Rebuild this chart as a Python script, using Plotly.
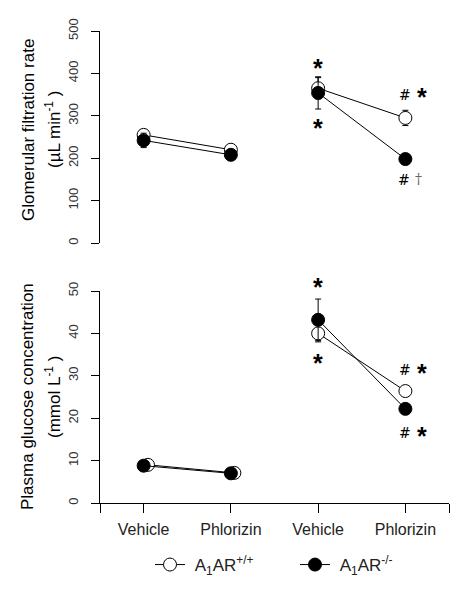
import plotly.graph_objects as go

# ---------------- data ----------------
categories = ["Vehicle", "Phlorizin", "Vehicle", "Phlorizin"]
cat_pos = [1, 2, 3, 4]
glu_wt_pos = [1.05, 2.04, 3, 4]

gfr_wt = [255, 220, 365, 295]
gfr_wt_err = [10, 8, 25, 18]
gfr_ko = [242, 208, 354, 198]
gfr_ko_err = [17, 8, 38, 10]

glu_wt = [9.0, 7.1, 40.0, 26.4]
glu_wt_err = [0.5, 0.4, 2.0, 1.2]
glu_ko = [8.8, 7.0, 43.2, 22.2]
glu_ko_err = [0.5, 0.4, 4.9, 1.0]

gfr_ticks = [0, 100, 200, 300, 400, 500]
glu_ticks = [0, 10, 20, 30, 40, 50]

FONT = "Liberation Sans, Arial, sans-serif"

fig = go.Figure()

def add_series(xs, ys, errs, filled, xa, ya, name, show):
    for grp in ([0, 1], [2, 3]):
        fig.add_trace(go.Scatter(
            x=[xs[i] for i in grp], y=[ys[i] for i in grp],
            error_y=dict(type="data", array=[errs[i] for i in grp], color="black",
                         thickness=1, width=3),
            mode="lines+markers",
            line=dict(color="black", width=1),
            marker=dict(size=13, symbol="circle",
                        color="black" if filled else "white",
                        line=dict(color="black", width=1)),
            name=name, legendgroup=name, showlegend=show and grp[0] == 0,
            xaxis=xa, yaxis=ya, cliponaxis=False,
        ))

WT = "\u00a0A<sub>1</sub>AR<sup>+/+</sup>"
KO = "\u00a0A<sub>1</sub>AR<sup>-/-</sup>"
add_series(cat_pos, gfr_wt, gfr_wt_err, False, "x", "y", WT, True)
add_series(cat_pos, gfr_ko, gfr_ko_err, True, "x", "y", KO, True)
add_series(glu_wt_pos, glu_wt, glu_wt_err, False, "x2", "y2", WT, False)
add_series(cat_pos, glu_ko, glu_ko_err, True, "x2", "y2", KO, False)

# significance markers
star_size = 25
def sym(xa, ya, xi, yv, shift, txt, dx=0):
    if txt == "*":
        f = dict(size=star_size, color="black", family=FONT, weight="bold")
        corr = -4
    elif txt == "#":
        f = dict(size=14, color="black", family="DejaVu Serif, serif")
        corr = 0
    else:
        f = dict(size=14, color="#666", family="DejaVu Serif, serif")
        corr = 1
    fig.add_annotation(x=cat_pos[xi], y=yv, xref=xa, yref=ya, text=txt,
                       showarrow=False, font=f, yshift=shift + corr, xshift=dx,
                       xanchor="center", yanchor="middle")

sym("x", "y", 2, gfr_wt[2] + gfr_wt_err[2], 14, "*")
sym("x", "y", 2, gfr_ko[2] - gfr_ko_err[2], -15, "*")
sym("x", "y", 3, gfr_wt[3], 23, "#")
sym("x", "y", 3, gfr_wt[3], 25, "*", 17)
sym("x", "y", 3, gfr_ko[3], -21, "#", -1)
sym("x", "y", 3, gfr_ko[3], -21, "†", 13)

sym("x2", "y2", 2, glu_ko[2] + glu_ko_err[2], 16, "*")
sym("x2", "y2", 2, glu_wt[2] - glu_wt_err[2], -17, "*")
sym("x2", "y2", 3, glu_wt[3], 21, "#")
sym("x2", "y2", 3, glu_wt[3], 22, "*", 17)
sym("x2", "y2", 3, glu_ko[3], -24, "#")
sym("x2", "y2", 3, glu_ko[3], -23, "*", 17)

# y-axis titles (two lines each)
def ytitle(px, ycen, txt):
    fig.add_annotation(x=(px - 100) / 349, y=ycen, xref="paper", yref="paper",
                       text=txt, textangle=-90, showarrow=False,
                       xanchor="center", yanchor="middle",
                       font=dict(size=17, color="black", family=FONT))

ytitle(28, (503 - 130) / 472, "Glomerular filtration rate")
ytitle(53, (503 - 130) / 472, "(µL min<sup>-1</sup> )")
ytitle(28, (503 - 397) / 472, "Plasma glucose concentration")
ytitle(53, (503 - 397) / 472, "(mmol L<sup>-1</sup> )")

yax = dict(showline=True, linecolor="black", linewidth=1, ticks="outside",
           ticklen=8, tickcolor="black", tickangle=-90, showgrid=False,
           zeroline=False, tickfont=dict(size=13, color="#333", family=FONT),
           ticklabelstandoff=8, automargin=False)

# page body has an 8px margin, so the figure is 8px smaller and shifted
fig.update_layout(
    width=457, height=593,
    margin=dict(l=92, r=16, t=23, b=98, autoexpand=False),
    paper_bgcolor="white", plot_bgcolor="white",
    font=dict(family=FONT, color="black"),
    xaxis=dict(domain=[0, 1], range=[0.5, 4.5], visible=False, anchor="y"),
    yaxis=dict(domain=[(503 - 243) / 472, 1], range=[0, 500], tickvals=gfr_ticks,
               anchor="x", **yax),
    xaxis2=dict(domain=[0, 1], range=[0.5, 4.5], anchor="y2", showline=True,
                linecolor="black", linewidth=1, ticks="outside", ticklen=9,
                tickcolor="black", showgrid=False, zeroline=False,
                tickvals=[0.5] + cat_pos + [4.5], ticktext=[""] + categories + [""],
                tickfont=dict(size=16, color="#222", family=FONT),
                ticklabelstandoff=3, automargin=False),
    yaxis2=dict(domain=[0, (503 - 291) / 472], range=[0, 50], tickvals=glu_ticks,
                anchor="x2", **yax),
    showlegend=True,
    legend=dict(orientation="h", x=(150 - 100) / 349, xanchor="left",
                y=(503 - 565) / 472, yanchor="middle",
                entrywidth=100, entrywidthmode="pixels",
                font=dict(size=17, color="#222", family=FONT),
                bgcolor="rgba(0,0,0,0)"),
)

fig.write_html("out.html")
